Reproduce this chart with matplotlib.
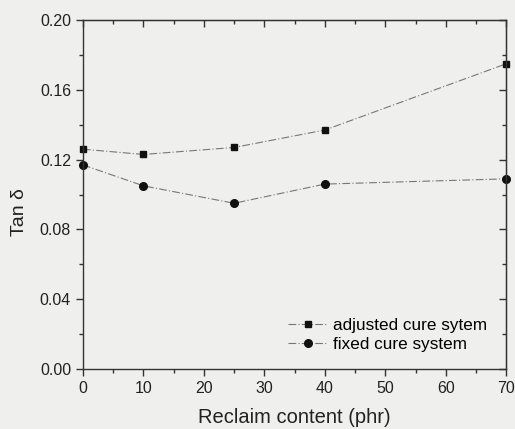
import matplotlib
matplotlib.use("Agg")
import matplotlib.pyplot as plt
from matplotlib.ticker import MultipleLocator

plt.rcParams["font.family"] = ["Liberation Sans", "DejaVu Sans"]

reclaim = [0, 10, 25, 40, 70]
adjusted = [0.126, 0.123, 0.127, 0.137, 0.175]
fixed = [0.117, 0.105, 0.095, 0.106, 0.109]

bg = "#efefed"
fig = plt.figure(figsize=(5.15, 4.29), dpi=100, facecolor=bg)
ax = fig.add_axes([0.161, 0.140, 0.822, 0.813], facecolor=bg)

ls = (0, (7, 2, 1, 2))
ax.plot(reclaim, adjusted, color="#777777", lw=0.8, ls=ls, marker="s",
        ms=5, mfc="#111111", mec="#111111", label="adjusted cure sytem",
        clip_on=False)
ax.plot(reclaim, fixed, color="#777777", lw=0.8, ls=ls, marker="o",
        ms=5.5, mfc="#111111", mec="#111111", label="fixed cure system",
        clip_on=False)

ax.set_xlim(0, 70)
ax.set_ylim(0, 0.20)
ax.xaxis.set_major_locator(MultipleLocator(10))
ax.xaxis.set_minor_locator(MultipleLocator(5))
ax.yaxis.set_major_locator(MultipleLocator(0.04))
ax.yaxis.set_minor_locator(MultipleLocator(0.02))
ax.yaxis.set_major_formatter(lambda v, p: f"{v:.2f}")

for s in ax.spines.values():
    s.set_color("#333333")
    s.set_linewidth(1.0)

ax.tick_params(which="both", direction="out", top=False, right=False,
               colors="#333333", labelsize=11.5, labelcolor="#222222")
ax.tick_params(which="major", length=5, width=1)
ax.tick_params(which="minor", length=3, width=1)

# inward mirrored ticks on top and right
sec_x = ax.secondary_xaxis("top")
sec_x.xaxis.set_major_locator(MultipleLocator(10))
sec_x.xaxis.set_minor_locator(MultipleLocator(5))
sec_x.tick_params(which="both", direction="in", labeltop=False, colors="#333333")
sec_x.tick_params(which="major", length=5, width=1)
sec_x.tick_params(which="minor", length=3, width=1)
sec_y = ax.secondary_yaxis("right")
sec_y.yaxis.set_major_locator(MultipleLocator(0.04))
sec_y.yaxis.set_minor_locator(MultipleLocator(0.02))
sec_y.tick_params(which="both", direction="in", labelright=False, colors="#333333")
sec_y.tick_params(which="major", length=5, width=1)
sec_y.tick_params(which="minor", length=3, width=1)

ax.set_xlabel("Reclaim content (phr)", fontsize=14.5, color="#222222", labelpad=9)
ax.set_ylabel("Tan δ", fontsize=14, color="#222222")
ax.yaxis.set_label_coords(-0.13, 0.45)

ax.legend(loc="lower right", frameon=False, fontsize=12.3, handlelength=2.3,
          handletextpad=0.3, labelspacing=0.25, bbox_to_anchor=(0.99, 0.005))

fig.savefig("out.png", dpi=100, facecolor=bg)
